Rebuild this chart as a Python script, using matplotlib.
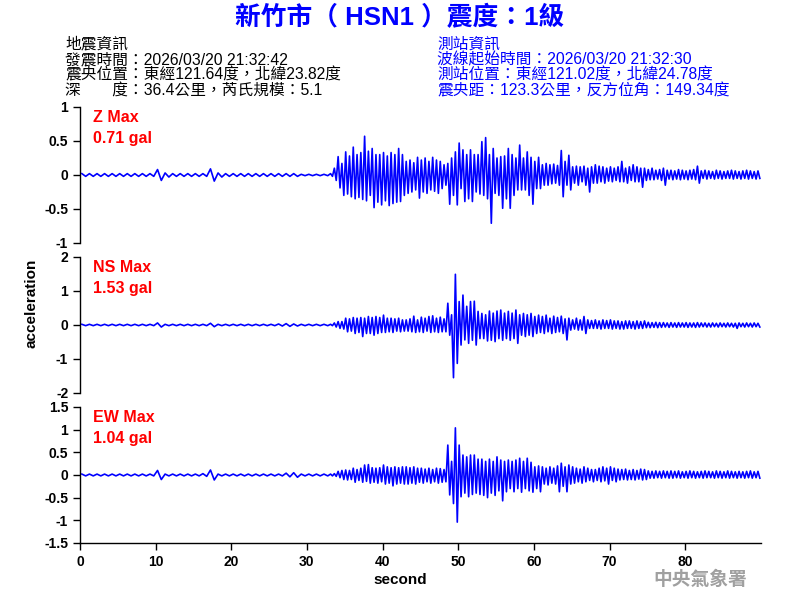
import numpy as np
import matplotlib
matplotlib.use("Agg")
import matplotlib.pyplot as plt
from matplotlib.ticker import FuncFormatter

plt.rcParams['font.family'] = ['Liberation Sans', 'Noto Sans CJK TC']
plt.rcParams['axes.unicode_minus'] = False

# 標題與資訊
title = "新竹市（ HSN1 ）震度：1級"
info_left = ["地震資訊",
             "發震時間：2026/03/20 21:32:42",
             "震央位置：東經121.64度，北緯23.82度",
             "深　　度：36.4公里，芮氏規模：5.1"]
info_right = ["測站資訊",
              "波線起始時間：2026/03/20 21:32:30",
              "測站位置：東經121.02度，北緯24.78度",
              "震央距：123.3公里，反方位角：149.34度"]

channels = ["Z", "NS", "EW"]
max_gal = ["0.71", "1.53", "1.04"]
ylims = [1.0, 2.0, 1.5]
yticks = [[-1, -0.5, 0, 0.5, 1],
          [-2, -1, 0, 1, 2],
          [-1.5, -1, -0.5, 0, 0.5, 1, 1.5]]
xticks = [0, 10, 20, 30, 40, 50, 60, 70, 80]

# 0-33 秒：每 1 秒的雜訊振幅
z_quiet = [0.02, 0.02, 0.02, 0.02, 0.02, 0.02, 0.02, 0.02, 0.02, 0.02,
           0.08, 0.03, 0.02, 0.02, 0.02, 0.02, 0.02, 0.09, 0.03, 0.02,
           0.02, 0.02, 0.02, 0.02, 0.02, 0.02, 0.02, 0.02, 0.02, 0.01,
           0.01, 0.01, 0.01]
ns_quiet = [0.02, 0.02, 0.02, 0.02, 0.02, 0.02, 0.02, 0.02, 0.02, 0.02,
            0.06, 0.02, 0.02, 0.02, 0.02, 0.02, 0.02, 0.05, 0.02, 0.02,
            0.02, 0.02, 0.02, 0.02, 0.02, 0.02, 0.03, 0.04, 0.03, 0.02,
            0.02, 0.02, 0.02]
ew_quiet = [0.02, 0.02, 0.02, 0.02, 0.02, 0.02, 0.02, 0.02, 0.02, 0.02,
            0.10, 0.02, 0.02, 0.02, 0.02, 0.02, 0.03, 0.11, 0.02, 0.02,
            0.02, 0.02, 0.02, 0.02, 0.02, 0.02, 0.02, 0.04, 0.05, 0.02,
            0.02, 0.02, 0.02]

# 33-90 秒：每 0.5 秒的最大/最小值
z_hi = [0.02, 0.10, 0.27, 0.17, 0.34, 0.28, 0.41, 0.30, 0.33, 0.57,
        0.35, 0.39, 0.30, 0.30, 0.33, 0.28, 0.33, 0.30, 0.39, 0.30,
        0.20, 0.22, 0.18, 0.26, 0.22, 0.25, 0.20, 0.26, 0.22, 0.20,
        0.15, 0.17, 0.25, 0.34, 0.47, 0.37, 0.30, 0.37, 0.30, 0.30,
        0.49, 0.55, 0.30, 0.39, 0.25, 0.27, 0.28, 0.39, 0.30, 0.25,
        0.44, 0.25, 0.34, 0.26, 0.20, 0.26, 0.15, 0.17, 0.15, 0.16,
        0.14, 0.36, 0.20, 0.29, 0.12, 0.13, 0.12, 0.13, 0.10, 0.12,
        0.15, 0.13, 0.12, 0.10, 0.12, 0.10, 0.12, 0.20, 0.10, 0.12,
        0.15, 0.12, 0.10, 0.10, 0.08, 0.10, 0.07, 0.08, 0.10, 0.07,
        0.07, 0.06, 0.08, 0.07, 0.06, 0.07, 0.08, 0.13, 0.06, 0.07,
        0.06, 0.05, 0.07, 0.06, 0.05, 0.06, 0.07, 0.06, 0.05, 0.06,
        0.07, 0.06, 0.05, 0.06]
z_lo = [-0.02, -0.08, -0.19, -0.30, -0.28, -0.32, -0.35, -0.33, -0.36, -0.38,
        -0.30, -0.48, -0.40, -0.44, -0.38, -0.45, -0.42, -0.40, -0.39, -0.30,
        -0.27, -0.25, -0.22, -0.34, -0.25, -0.27, -0.22, -0.24, -0.27, -0.20,
        -0.15, -0.43, -0.30, -0.44, -0.20, -0.39, -0.35, -0.39, -0.25, -0.28,
        -0.30, -0.35, -0.71, -0.27, -0.30, -0.49, -0.35, -0.49, -0.30, -0.22,
        -0.22, -0.22, -0.30, -0.43, -0.20, -0.20, -0.15, -0.15, -0.13, -0.12,
        -0.15, -0.32, -0.15, -0.22, -0.12, -0.15, -0.10, -0.15, -0.25, -0.12,
        -0.12, -0.10, -0.12, -0.09, -0.10, -0.08, -0.10, -0.10, -0.12, -0.08,
        -0.10, -0.10, -0.18, -0.08, -0.07, -0.07, -0.06, -0.08, -0.15, -0.06,
        -0.07, -0.06, -0.07, -0.06, -0.07, -0.06, -0.07, -0.12, -0.05, -0.06,
        -0.05, -0.06, -0.05, -0.06, -0.05, -0.05, -0.06, -0.05, -0.06, -0.05,
        -0.06, -0.05, -0.06, -0.05]

ns_hi = [0.02, 0.06, 0.10, 0.10, 0.20, 0.18, 0.22, 0.20, 0.22, 0.20,
         0.25, 0.22, 0.25, 0.22, 0.29, 0.20, 0.20, 0.18, 0.20, 0.15,
         0.15, 0.18, 0.26, 0.15, 0.23, 0.20, 0.25, 0.27, 0.20, 0.23,
         0.18, 0.64, 0.30, 1.49, 0.69, 0.88, 0.55, 0.69, 0.70, 0.40,
         0.34, 0.30, 0.41, 0.35, 0.41, 0.44, 0.35, 0.40, 0.35, 0.44,
         0.30, 0.34, 0.30, 0.34, 0.25, 0.29, 0.25, 0.29, 0.20, 0.26,
         0.22, 0.26, 0.18, 0.20, 0.15, 0.20, 0.15, 0.25, 0.15, 0.13,
         0.15, 0.12, 0.15, 0.13, 0.15, 0.12, 0.12, 0.10, 0.12, 0.12,
         0.10, 0.12, 0.10, 0.12, 0.08, 0.07, 0.08, 0.07, 0.07, 0.06,
         0.07, 0.06, 0.07, 0.06, 0.07, 0.06, 0.06, 0.07, 0.06, 0.06,
         0.05, 0.06, 0.05, 0.06, 0.05, 0.06, 0.05, 0.05, 0.06, 0.05,
         0.06, 0.05, 0.06, 0.05]
ns_lo = [-0.02, -0.06, -0.10, -0.12, -0.20, -0.18, -0.25, -0.22, -0.34, -0.25,
         -0.25, -0.30, -0.25, -0.22, -0.22, -0.20, -0.22, -0.18, -0.20, -0.18,
         -0.18, -0.20, -0.22, -0.20, -0.22, -0.18, -0.22, -0.20, -0.22, -0.20,
         -0.20, -0.30, -1.55, -1.13, -0.59, -0.44, -0.54, -0.45, -0.59, -0.40,
         -0.40, -0.47, -0.45, -0.49, -0.40, -0.45, -0.40, -0.45, -0.40, -0.54,
         -0.30, -0.34, -0.30, -0.34, -0.25, -0.22, -0.25, -0.20, -0.25, -0.22,
         -0.20, -0.25, -0.44, -0.15, -0.12, -0.15, -0.15, -0.25, -0.10, -0.10,
         -0.10, -0.12, -0.10, -0.10, -0.12, -0.10, -0.12, -0.12, -0.10, -0.10,
         -0.12, -0.10, -0.10, -0.08, -0.08, -0.07, -0.08, -0.07, -0.06, -0.07,
         -0.06, -0.07, -0.06, -0.06, -0.07, -0.06, -0.07, -0.06, -0.05, -0.06,
         -0.06, -0.05, -0.06, -0.05, -0.06, -0.05, -0.06, -0.10, -0.05, -0.06,
         -0.05, -0.06, -0.05, -0.06]

ew_hi = [0.02, 0.03, 0.08, 0.10, 0.11, 0.10, 0.15, 0.12, 0.15, 0.22,
         0.23, 0.16, 0.15, 0.16, 0.22, 0.18, 0.16, 0.18, 0.16, 0.18,
         0.18, 0.16, 0.18, 0.15, 0.15, 0.13, 0.15, 0.12, 0.15, 0.14,
         0.12, 0.66, 0.30, 1.04, 0.66, 0.44, 0.40, 0.44, 0.44, 0.35,
         0.35, 0.30, 0.35, 0.30, 0.40, 0.33, 0.30, 0.33, 0.30, 0.33,
         0.37, 0.30, 0.37, 0.28, 0.18, 0.20, 0.18, 0.15, 0.18, 0.15,
         0.20, 0.26, 0.18, 0.22, 0.18, 0.15, 0.13, 0.18, 0.15, 0.12,
         0.12, 0.15, 0.18, 0.15, 0.18, 0.15, 0.13, 0.12, 0.13, 0.10,
         0.12, 0.10, 0.13, 0.12, 0.09, 0.08, 0.09, 0.08, 0.09, 0.08,
         0.09, 0.08, 0.09, 0.07, 0.08, 0.09, 0.08, 0.07, 0.08, 0.09,
         0.08, 0.07, 0.09, 0.08, 0.07, 0.09, 0.08, 0.07, 0.08, 0.07,
         0.08, 0.09, 0.07, 0.08]
ew_lo = [-0.02, -0.03, -0.06, -0.10, -0.11, -0.10, -0.16, -0.12, -0.16, -0.14,
         -0.18, -0.16, -0.18, -0.15, -0.20, -0.18, -0.24, -0.20, -0.18, -0.20,
         -0.20, -0.18, -0.20, -0.16, -0.18, -0.15, -0.18, -0.15, -0.18, -0.16,
         -0.15, -0.44, -0.63, -1.04, -0.48, -0.40, -0.48, -0.43, -0.40, -0.43,
         -0.45, -0.50, -0.40, -0.45, -0.35, -0.57, -0.37, -0.30, -0.37, -0.30,
         -0.38, -0.30, -0.35, -0.38, -0.30, -0.37, -0.20, -0.22, -0.18, -0.20,
         -0.37, -0.25, -0.37, -0.20, -0.18, -0.15, -0.18, -0.15, -0.12, -0.15,
         -0.12, -0.15, -0.13, -0.20, -0.12, -0.15, -0.11, -0.10, -0.11, -0.10,
         -0.11, -0.09, -0.11, -0.10, -0.07, -0.07, -0.06, -0.07, -0.06, -0.07,
         -0.07, -0.06, -0.07, -0.06, -0.07, -0.06, -0.07, -0.06, -0.07, -0.06,
         -0.06, -0.07, -0.06, -0.07, -0.06, -0.07, -0.06, -0.07, -0.06, -0.07,
         -0.06, -0.07, -0.06, -0.07]

quiet = [z_quiet, ns_quiet, ew_quiet]
his = [z_hi, ns_hi, ew_hi]
los = [z_lo, ns_lo, ew_lo]


def build_trace(q, hi, lo):
    # 雜訊段 (1 秒一格) + 主震段 (0.5 秒一格)，上下交錯
    t, v = [], []
    for i, a in enumerate(q):
        t += [i + 0.25, i + 0.75]
        v += [a, -a]
    start = len(q)
    for i in range(len(hi)):
        t0 = start + i * 0.5
        t += [t0 + 0.125, t0 + 0.375]
        v += [hi[i], lo[i]]
    return np.array(t), np.array(v)


fig = plt.figure(figsize=(8, 6), dpi=100)

bottoms = [0.595, 0.345, 0.095]
for k in range(3):
    ax = fig.add_axes([0.1, bottoms[k], 0.851, 0.2267])
    t, v = build_trace(quiet[k], his[k], los[k])
    ax.plot(t, v, color='#0000ff', linewidth=1.2)
    ax.set_xlim(0, 90)
    ax.set_ylim(-ylims[k], ylims[k])
    ax.set_yticks(yticks[k])
    ax.yaxis.set_major_formatter(FuncFormatter(lambda y, p: '%g' % y))
    for s in ['top', 'right']:
        ax.spines[s].set_visible(False)
    ax.spines['left'].set_linewidth(1.0)
    ax.tick_params(axis='y', direction='out', length=5, width=1, labelsize=10)
    for lab in ax.get_yticklabels():
        lab.set_fontweight('bold')
    if k < 2:
        ax.spines['bottom'].set_visible(False)
        ax.set_xticks([])
    else:
        ax.spines['bottom'].set_linewidth(1.0)
        ax.set_xticks(xticks)
        ax.tick_params(axis='x', direction='out', length=5, width=1, labelsize=10)
        for lab in ax.get_xticklabels():
            lab.set_fontweight('bold')
    # 最大值標示
    ax.text(0.019, 0.92, channels[k] + " Max", transform=ax.transAxes,
            color='#ff0000', fontsize=11.5, fontweight='bold', va='center')
    ax.text(0.019, 0.77, max_gal[k] + " gal", transform=ax.transAxes,
            color='#ff0000', fontsize=11.5, fontweight='bold', va='center')

fig.text(0.5, 1 - 18 / 600, title, color='#0000ff', fontsize=18.5,
         fontweight='bold', ha='center', va='center')

line_y = [44, 60, 75, 91]
for i in range(4):
    fig.text(65 / 800, 1 - line_y[i] / 600, info_left[i], color='black',
             fontsize=11.3, ha='left', va='center')
    fig.text(437 / 800, 1 - line_y[i] / 600, info_right[i], color='#0000ff',
             fontsize=11.3, ha='left', va='center')

fig.text(32 / 800, 1 - 303 / 600, "acceleration", rotation=90, fontsize=11,
         fontweight='bold', ha='center', va='center')
fig.text(400 / 800, 1 - 580 / 600, "second", fontsize=11, fontweight='bold',
         ha='center', va='center')
fig.text(700 / 800, 1 - 580 / 600, "中央氣象署", color='#a0a0a0', fontsize=13.5,
         fontweight='bold', ha='center', va='center')

plt.savefig("out.png", dpi=100)
